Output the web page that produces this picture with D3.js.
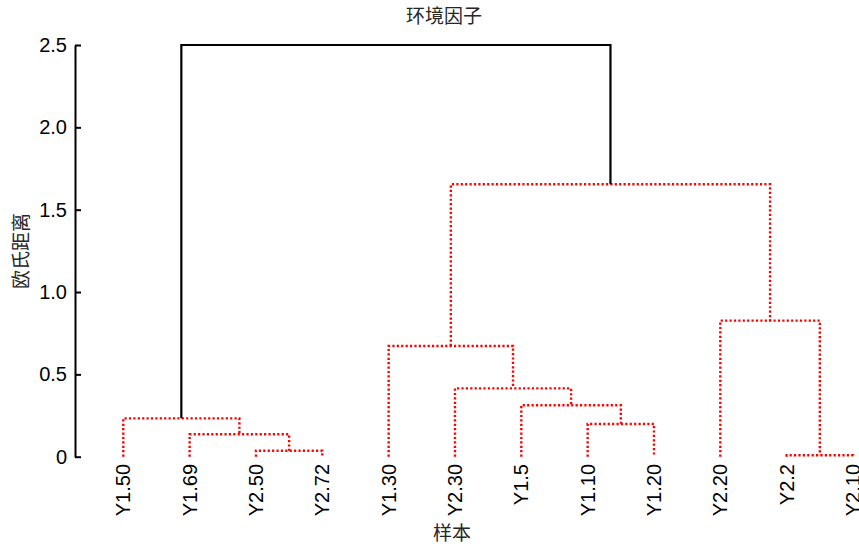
<!DOCTYPE html>
<html>
<head>
<meta charset="utf-8">
<script src="https://cdn.jsdelivr.net/npm/d3@7"></script>
<style>
  html, body { margin: 0; padding: 0; background: #fff; }
  svg { display: block; }
  text { font-family: "Liberation Sans", Arial, sans-serif; fill: #000; }
  .cjk { font-family: "Noto Sans CJK SC", sans-serif; fill: #262626; }
</style>
</head>
<body>
<svg id="chart" width="859" height="547"></svg>
<script>
// Sample names in dendrogram leaf order (ids 0..11)
const leaves = ["Y1.50", "Y1.69", "Y2.50", "Y2.72", "Y1.30", "Y2.30", "Y1.5", "Y1.10", "Y1.20", "Y2.20", "Y2.2", "Y2.10"];

// Linkage rows in merge order: row k creates cluster id 12 + k
const mergeLeft  = [10, 2, 1, 7, 0, 6, 5, 4, 9, 19, 16];
const mergeRight = [11, 3, 13, 8, 14, 15, 17, 18, 12, 20, 21];
const mergeDist  = [0.009, 0.036, 0.136, 0.199, 0.233, 0.312, 0.415, 0.672, 0.826, 1.654, 2.5];

// Links below this distance are drawn as the coloured clusters
const colorThreshold = 1.75;

// Axis tick values
const yTicks = [0, 0.5, 1.0, 1.5, 2.0, 2.5];

const title = "环境因子";
const xTitle = "样本";
const yTitle = "欧氏距离";

const svg = d3.select("#chart");

const x = d3.scaleLinear().domain([0, leaves.length - 1]).range([123.3, 853]);
const y = d3.scaleLinear().domain([0, 2.5]).range([456.7, 45]);

// Node positions: leaves sit at distance 0, clusters at the mean of their children
const pos = leaves.map((_, i) => ({ x: x(i), h: 0 }));
const links = mergeLeft.map((l, k) => {
  const r = mergeRight[k], h = mergeDist[k];
  const a = pos[l], b = pos[r];
  pos.push({ x: (a.x + b.x) / 2, h });
  return { a, b, h };
});

// Y axis (ticks point into the plot)
const yAxis = d3.axisLeft(y)
  .tickValues(yTicks)
  .tickSize(-6)
  .tickSizeOuter(0)
  .tickPadding(8)
  .tickFormat(d => d === 0 ? "0" : d3.format(".1f")(d));

const gy = svg.append("g")
  .attr("transform", "translate(75,0)")
  .call(yAxis);
gy.select(".domain").attr("stroke", "#000").attr("stroke-width", 2);
gy.selectAll(".tick line").attr("stroke", "#000").attr("stroke-width", 2);
gy.selectAll(".tick text")
  .style("font-family", "'Liberation Sans', Arial, sans-serif")
  .style("font-size", "20px")
  .attr("fill", "#000");

// Dendrogram links (U shapes)
svg.append("g")
  .selectAll("path")
  .data(links)
  .join("path")
  .attr("d", d => `M${d.a.x},${y(d.a.h)}V${y(d.h)}H${d.b.x}V${y(d.b.h)}`)
  .attr("fill", "none")
  .attr("stroke", d => d.h < colorThreshold ? "#ff0000" : "#000")
  .attr("stroke-width", d => d.h < colorThreshold ? 2.4 : 2.2)
  .attr("stroke-dasharray", d => d.h < colorThreshold ? "2.2 2.2" : null)
  .attr("stroke-linecap", "butt");

// Leaf labels, rotated
svg.append("g")
  .selectAll("text")
  .data(leaves)
  .join("text")
  .attr("transform", (d, i) => `translate(${x(i) + 7},464) rotate(-90)`)
  .attr("text-anchor", "end")
  .style("font-size", "20px")
  .text(d => d);

// Titles
svg.append("text")
  .attr("class", "cjk")
  .attr("x", 444)
  .attr("y", 23)
  .attr("text-anchor", "middle")
  .style("font-size", "19px")
  .text(title);

svg.append("text")
  .attr("class", "cjk")
  .attr("x", 452)
  .attr("y", 540)
  .attr("text-anchor", "middle")
  .style("font-size", "19px")
  .text(xTitle);

svg.append("text")
  .attr("class", "cjk")
  .attr("transform", "translate(28,251) rotate(-90)")
  .attr("text-anchor", "middle")
  .style("font-size", "19px")
  .text(yTitle);
</script>
</body>
</html>
